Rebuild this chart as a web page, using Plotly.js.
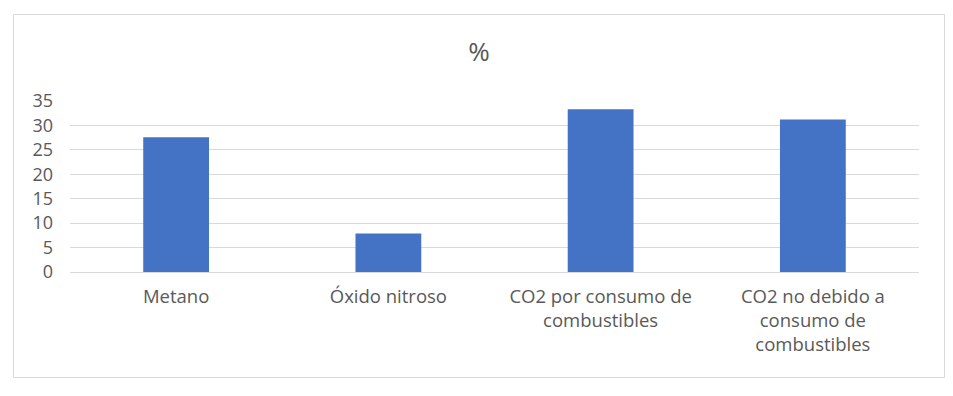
<!DOCTYPE html>
<html>
<head>
<meta charset="utf-8">
<script src="https://cdn.plot.ly/plotly-3.0.1.min.js"></script>
<style>html,body{margin:0;padding:0;background:#fff;}#chart{width:953px;height:396px;}</style>
</head>
<body>
<div id="chart"></div>
<script>
var categories = ["Metano", "Óxido nitroso", "CO2 por consumo de<br>combustibles", "CO2 no debido a<br>consumo de<br>combustibles"];
var values = [27.6, 7.9, 33.3, 31.2];
var yTicks = [0, 5, 10, 15, 20, 25, 30, 35];

var trace = {
  type: 'bar',
  x: categories,
  y: values,
  width: 0.31,
  marker: {color: '#4472C4'},
  hoverinfo: 'x+y'
};

var L = 70, R = 919, T = 101, B = 272, W = 953, H = 396;
function px(x){ return (x - L) / (R - L); }
function py(y){ return (B - y) / (B - T); }

var layout = {
  width: W, height: H,
  margin: {l: L, r: W - R, t: T, b: H - B, pad: 0},
  paper_bgcolor: '#ffffff',
  plot_bgcolor: '#ffffff',
  font: {family: '"Open Sans", sans-serif', color: '#595959', size: 18},
  title: {text: '%', x: 479 / W, xanchor: 'center', y: 1 - 52 / H, yanchor: 'middle', font: {size: 26, color: '#595959'}},
  showlegend: false,
  bargap: 0.69,
  xaxis: {
    type: 'category',
    showgrid: false, zeroline: false, showline: false,
    ticks: '', tickfont: {size: 18.5, color: '#595959'},
    tickangle: 0, automargin: false,
    ticklabelstandoff: 11
  },
  yaxis: {
    range: [0, 35], tickvals: yTicks, ticktext: yTicks.map(String),
    showgrid: true, gridcolor: '#d9d9d9', gridwidth: 1,
    zeroline: true, zerolinecolor: '#d9d9d9', zerolinewidth: 1,
    showline: false, ticks: '', automargin: false,
    tickfont: {size: 18, color: '#595959'},
    ticklabelstandoff: 16
  },
  shapes: [{
    type: 'rect', xref: 'paper', yref: 'paper',
    x0: px(13.5), x1: px(944.5), y0: py(377.5), y1: py(14.5),
    line: {color: '#d9d9d9', width: 1}, fillcolor: 'rgba(0,0,0,0)', layer: 'below'
  }]
};

Plotly.newPlot('chart', [trace], layout, {displayModeBar: false, staticPlot: true});
</script>
</body>
</html>
